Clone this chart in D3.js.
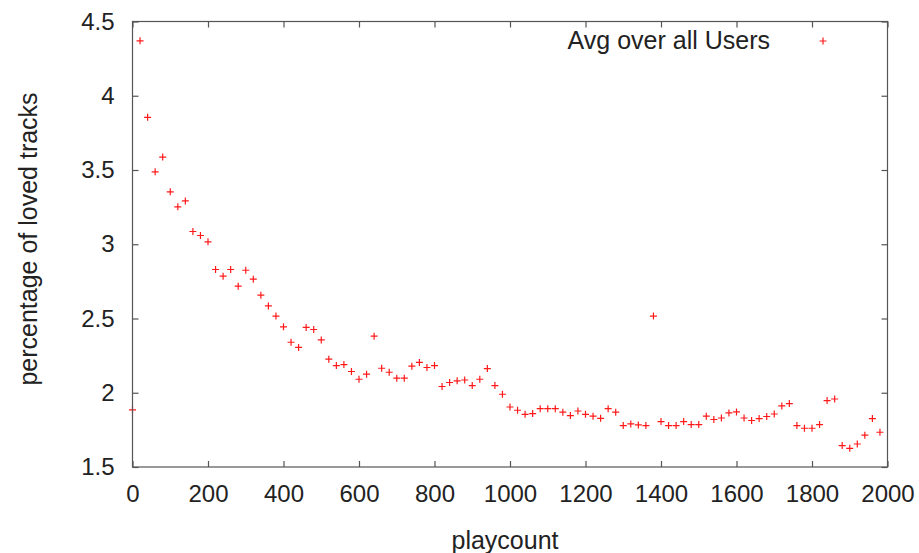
<!DOCTYPE html>
<html>
<head>
<meta charset="utf-8">
<script src="https://cdn.jsdelivr.net/npm/d3@7"></script>
<style>
  body { margin: 0; background: #fff; }
  text { font-family: "Liberation Sans", Arial, sans-serif; fill: #222; }
</style>
</head>
<body>
<div id="chart"></div>
<script>

// playcount bins (x) and avg percentage of loved tracks (y)
const playcount = [
    0, 20, 40, 60, 80, 100, 120, 140, 160, 180,
    200, 220, 240, 260, 280, 300, 320, 340, 360, 380,
    400, 420, 440, 460, 480, 500, 520, 540, 560, 580,
    600, 620, 640, 660, 680, 700, 720, 740, 760, 780,
    800, 820, 840, 860, 880, 900, 920, 940, 960, 980,
    1000, 1020, 1040, 1060, 1080, 1100, 1120, 1140, 1160, 1180,
    1200, 1220, 1240, 1260, 1280, 1300, 1320, 1340, 1360, 1380,
    1400, 1420, 1440, 1460, 1480, 1500, 1520, 1540, 1560, 1580,
    1600, 1620, 1640, 1660, 1680, 1700, 1720, 1740, 1760, 1780,
    1800, 1820, 1840, 1860, 1880, 1900, 1920, 1940, 1960, 1980
]

const lovedPct = [
    1.885, 4.37, 3.855, 3.488, 3.587, 3.353, 3.252, 3.292, 3.086, 3.059,
    3.016, 2.83, 2.785, 2.83, 2.718, 2.825, 2.765, 2.657, 2.585, 2.516,
    2.444, 2.34, 2.305, 2.44, 2.426, 2.356, 2.226, 2.183, 2.19, 2.143,
    2.091, 2.125, 2.381, 2.165, 2.138, 2.098, 2.098, 2.179, 2.204, 2.17,
    2.183, 2.042, 2.069, 2.08, 2.086, 2.048, 2.091, 2.163, 2.048, 1.99,
    1.904, 1.882, 1.855, 1.86, 1.893, 1.893, 1.893, 1.869, 1.846, 1.877,
    1.855, 1.842, 1.828, 1.893, 1.869, 1.779, 1.79, 1.783, 1.779, 2.516,
    1.806, 1.779, 1.779, 1.806, 1.786, 1.786, 1.842, 1.82, 1.83, 1.864,
    1.871, 1.83, 1.813, 1.826, 1.84, 1.857, 1.911, 1.927, 1.779, 1.761,
    1.761, 1.786, 1.947, 1.958, 1.644, 1.626, 1.655, 1.714, 1.826, 1.734
]

const xTicks = [0, 200, 400, 600, 800, 1000, 1200, 1400, 1600, 1800, 2000]
const yTicks = [1.5, 2, 2.5, 3, 3.5, 4, 4.5]
const seriesName = "Avg over all Users"

// margins for SVG
const margin = { left: 132.5, right: 31.5, top: 21.5, bottom: 86 }
const svgWidth = 919
const svgHeight = 553
const width = svgWidth - margin.left - margin.right
const height = svgHeight - margin.top - margin.bottom

const svg = d3.select('#chart')
    .append('svg')
    .attr('width', svgWidth)
    .attr('height', svgHeight)

const g = svg.append('g')
    .attr('transform', `translate(${margin.left},${margin.top})`)

////////////// scales /////////////
const x = d3.scaleLinear().domain([0, 2000]).range([0, width])
const y = d3.scaleLinear().domain([1.5, 4.5]).range([height, 0])

const data = playcount.map((p, i) => ({ x: p, y: lovedPct[i] }))

const plus = "M-3.5,0H3.5M0,-3.5V3.5"
const red = "#ff1a1a"

////////////// points /////////////
g.append('g')
    .selectAll('path')
    .data(data)
    .join('path')
    .attr('transform', d => `translate(${x(d.x)},${y(d.y)})`)
    .attr('d', plus)
    .attr('fill', 'none')
    .attr('stroke', red)
    .attr('stroke-width', 1.2)

////////////// axes (gnuplot style, ticks inward, mirrored) /////////////
const tickLen = 6
const axisColor = "#555"

const bottomAxis = g.append('g')
    .attr('transform', `translate(0,${height})`)
    .call(d3.axisBottom(x).tickValues(xTicks).tickSizeInner(-tickLen).tickSizeOuter(0).tickPadding(18).tickFormat(d3.format('')))
const topAxis = g.append('g')
    .call(d3.axisTop(x).tickValues(xTicks).tickSizeInner(-tickLen).tickSizeOuter(0).tickFormat(''))
const leftAxis = g.append('g')
    .call(d3.axisLeft(y).tickValues(yTicks).tickSizeInner(-tickLen).tickSizeOuter(0).tickPadding(18).tickFormat(d3.format('')))
const rightAxis = g.append('g')
    .attr('transform', `translate(${width},0)`)
    .call(d3.axisRight(y).tickValues(yTicks).tickSizeInner(-tickLen).tickSizeOuter(0).tickFormat(''))

for (const ax of [bottomAxis, topAxis, leftAxis, rightAxis]) {
    ax.select('.domain').remove()
    ax.selectAll('line').attr('stroke', axisColor).attr('stroke-width', 1.2)
    ax.selectAll('text').style('font-size', '24px').attr('fill', '#222')
        .style('font-family', '"Liberation Sans", Arial, sans-serif')
}

// border box
g.append('rect')
    .attr('x', 0).attr('y', 0)
    .attr('width', width).attr('height', height)
    .attr('fill', 'none')
    .attr('stroke', axisColor)
    .attr('stroke-width', 1.2)

////////////// labels /////////////
svg.append('text')
    .attr('x', 505)
    .attr('y', 549)
    .attr('text-anchor', 'middle')
    .style('font-size', '25px')
    .text('playcount')

svg.append('text')
    .attr('transform', `translate(37,${239}) rotate(-90)`)
    .attr('text-anchor', 'middle')
    .style('font-size', '25px')
    .text('percentage of loved tracks')

////////////// legend /////////////
svg.append('text')
    .attr('x', 770)
    .attr('y', 49)
    .attr('text-anchor', 'end')
    .style('font-size', '25px')
    .text(seriesName)

svg.append('path')
    .attr('transform', 'translate(823,41)')
    .attr('d', plus)
    .attr('fill', 'none')
    .attr('stroke', red)
    .attr('stroke-width', 1.2)

</script>
</body>
</html>
